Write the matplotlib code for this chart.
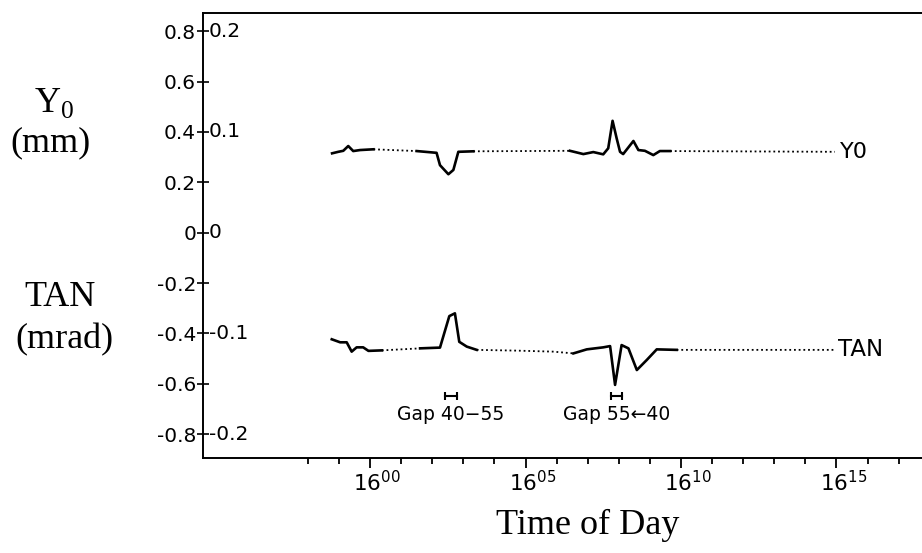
import numpy as np
import matplotlib
matplotlib.use("Agg")
import matplotlib.pyplot as plt
from matplotlib.ticker import FixedLocator
from matplotlib.transforms import ScaledTranslation

nan = np.nan

# time in minutes after 16:00, values on the outer (left) scale
# Y0 trace: solid parts (nan = break), dotted connecting parts
y0_t = [-1.22, -1.02, -0.86, -0.70, -0.54, -0.32, 0.11, nan,
        1.50, 2.14, 2.25, 2.52, 2.68, 2.84, 3.32, nan,
        6.43, 6.86, 7.18, 7.50, 7.66, 7.80, 7.93, 8.04, 8.14, 8.47, 8.63, 8.84, 9.11, 9.32, 9.65]
y0_v = [0.315, 0.321, 0.325, 0.344, 0.324, 0.328, 0.331, nan,
        0.324, 0.317, 0.268, 0.232, 0.249, 0.321, 0.323, nan,
        0.325, 0.312, 0.320, 0.311, 0.335, 0.444, 0.375, 0.321, 0.312, 0.364, 0.328, 0.325, 0.308, 0.324, 0.324]
y0_dot_t = [0.11, 1.50, nan, 3.32, 6.43, nan, 9.65, 14.95]
y0_dot_v = [0.331, 0.324, nan, 0.323, 0.325, nan, 0.324, 0.321]

# TAN trace
tan_t = [-1.23, -0.96, -0.75, -0.59, -0.43, -0.22, -0.05, 0.38, nan,
         1.61, 2.25, 2.55, 2.73, 2.87, 3.11, 3.43, nan,
         6.54, 6.97, 7.50, 7.72, 7.88, 8.09, 8.31, 8.58, 8.90, 9.22, 9.86]
tan_v = [-0.423, -0.435, -0.435, -0.472, -0.455, -0.455, -0.469, -0.467, nan,
         -0.459, -0.456, -0.331, -0.320, -0.433, -0.452, -0.465, nan,
         -0.479, -0.463, -0.455, -0.450, -0.604, -0.446, -0.459, -0.545, -0.505, -0.463, -0.465]
tan_dot_t = [0.38, 1.61, nan, 3.43, 4.72, 5.89, 6.54, nan, 9.86, 14.95]
tan_dot_v = [-0.467, -0.459, nan, -0.465, -0.468, -0.472, -0.479, nan, -0.465, -0.465]

# gap markers (start, end) and labels
gaps = [(2.41, 2.79), (7.75, 8.09)]
gap_labels = ["Gap 40\u221255", "Gap 55\u219040"]
gap_level = -0.648

y_ticks = [0.8, 0.6, 0.4, 0.2, 0, -0.2, -0.4, -0.6, -0.8]
y_labels = ["0.8", "0.6", "0.4", "0.2", "0", "-0.2", "-0.4", "-0.6", "-0.8"]
inner_pos = [0.8, 0.4, 0, -0.4, -0.8]
inner_labels = ["0.2", "0.1", "0", "-0.1", "-0.2"]
x_major = [0, 5, 10, 15]
x_labels = [r"$\mathregular{16^{00}}$", r"$\mathregular{16^{05}}$",
            r"$\mathregular{16^{10}}$", r"$\mathregular{16^{15}}$"]
x_minor = list(range(-2, 18))

sans = "DejaVu Sans"
serif = "Liberation Serif"

fig = plt.figure(figsize=(9.22, 5.53), dpi=100)
ax = fig.add_axes([0.2202, 0.1723, 0.7798, 0.8047])

ax.plot(y0_t, y0_v, color="black", lw=1.9, solid_joinstyle="round")
ax.plot(y0_dot_t, y0_dot_v, color="black", lw=1.3, ls=(0, (1, 1.6)))
ax.plot(tan_t, tan_v, color="black", lw=1.9, solid_joinstyle="round")
ax.plot(tan_dot_t, tan_dot_v, color="black", lw=1.3, ls=(0, (1, 1.6)))

ax.annotate("Y0", (y0_dot_t[-1], y0_dot_v[-1]), xytext=(4, 0), textcoords="offset points",
            va="center", ha="left", fontsize=16, family=sans)
ax.annotate("TAN", (tan_dot_t[-1], tan_dot_v[-1]), xytext=(2, 0), textcoords="offset points",
            va="center", ha="left", fontsize=16.5, family=sans)

for (g0, g1), lab in zip(gaps, gap_labels):
    ax.plot([g0, g1], [gap_level, gap_level], color="black", lw=1.5,
            marker="|", ms=6, mew=1.5)
    ax.text((g0 + g1) / 2, gap_level - 0.035, lab, ha="center", va="top",
            fontsize=13.5, family=sans)

ax.set_xlim(-5.37, 17.75)
ax.set_ylim(-0.893, 0.873)

ax.set_yticks(y_ticks)
ax.set_yticklabels(y_labels, family=sans, fontsize=14.5)
ax.tick_params(axis="y", direction="inout", length=8, width=1.2, pad=1)
for p, lab in zip(inner_pos, inner_labels):
    ax.annotate(lab, (0, p), xycoords=("axes fraction", "data"), xytext=(4, 0),
                textcoords="offset points", ha="left", va="center",
                fontsize=14.5, family=sans)

ax.xaxis.set_major_locator(FixedLocator(x_major))
ax.xaxis.set_minor_locator(FixedLocator(x_minor))
ax.set_xticklabels(x_labels, family=sans, fontsize=15.5)
ax.tick_params(axis="x", which="major", direction="out", length=7, width=1.3, pad=2)
ax.tick_params(axis="x", which="minor", direction="out", length=4, width=1.3)
shift = ScaledTranslation(7 / 100, 0, fig.dpi_scale_trans)
for lab in ax.get_xticklabels():
    lab.set_transform(lab.get_transform() + shift)

ax.spines["right"].set_visible(False)
for s in ["left", "top", "bottom"]:
    ax.spines[s].set_linewidth(1.4)

fig.text(54 / 922, 1 - 103 / 553, r"Y$_\mathregular{0}$", ha="center", va="center",
         fontsize=26, family=serif)
fig.text(50 / 922, 1 - 143 / 553, "(mm)", ha="center", va="center", fontsize=26, family=serif)
fig.text(60 / 922, 1 - 297 / 553, "TAN", ha="center", va="center", fontsize=26, family=serif)
fig.text(64 / 922, 1 - 340 / 553, "(mrad)", ha="center", va="center", fontsize=26, family=serif)
fig.text(588 / 922, 1 - 525 / 553, "Time of Day", ha="center", va="center",
         fontsize=26, family=serif)

fig.savefig("out.png", dpi=100)
